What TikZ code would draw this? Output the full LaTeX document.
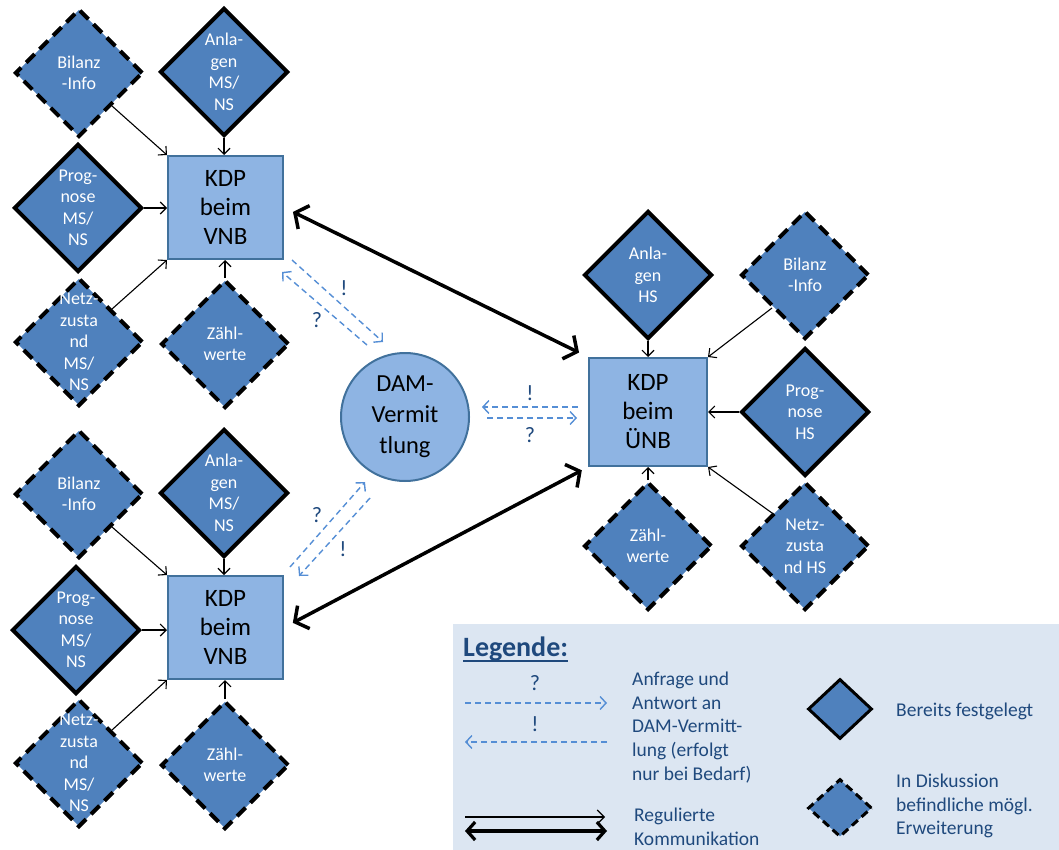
\documentclass[tikz,border=0pt]{standalone}
\usepackage{fontspec}
\setmainfont{Carlito}
\usetikzlibrary{shapes.geometric,arrows.meta}
\definecolor{dfill}{RGB}{79,129,189}
\definecolor{bfill}{RGB}{142,180,227}
\definecolor{bdraw}{RGB}{65,113,156}
\definecolor{dashc}{RGB}{85,142,213}
\definecolor{ltext}{RGB}{31,73,125}
\definecolor{legbg}{RGB}{220,230,242}
\tikzset{
 dia/.style={diamond, aspect=1, minimum width=128pt, minimum height=128pt, inner sep=0pt, fill=dfill, draw=black, line width=4pt},
 diasolid/.style={dia},
 diadash/.style={dia, dash pattern=on 12pt off 7pt},
 dtext/.style={text=white, font=\fontsize{18}{21.5}\selectfont, align=center, inner sep=0pt},
 kdp/.style={rectangle, fill=bfill, draw=bdraw, line width=2pt, minimum width=115pt, minimum height=103pt, font=\fontsize{25}{29}\selectfont, align=center, inner sep=0pt},
 feed/.style={-{Straight Barb[length=6pt,width=12pt]}, line width=1.1pt},
 reg/.style={{Straight Barb[length=10pt,width=26pt]}-{Straight Barb[length=10pt,width=26pt]}, line width=3.5pt},
 req/.style={-{Straight Barb[length=6pt,width=13pt]}, draw=dashc, line width=1.4pt, dash pattern=on 6pt off 4pt},
 qlab/.style={text=ltext, font=\fontsize{22}{26}\selectfont, inner sep=0pt},
 ltxt/.style={text=ltext, font=\fontsize{19.5}{23.8}\selectfont, align=left, inner sep=0pt},
}
\begin{document}
\begin{tikzpicture}[x=1pt,y=-1pt]
\useasboundingbox (0,0) rectangle (1059,850);
% legend background
\fill[legbg] (453,624) rectangle (1059,850);

% ---------- top-left cluster ----------
\node[kdp] (k1) at (225.5,207.5) {KDP\\beim\\VNB};
\node[diadash, label={[dtext]center:{Bilanz\\-Info}}] (bi1) at (79,73) {};
\node[diasolid, label={[dtext]center:{Anla-\\gen\\MS/\\NS}}] (an1) at (224,72) {};
\node[diasolid, label={[dtext]center:{Prog-\\nose\\MS/\\NS}}] (pr1) at (78,208) {};
\node[diadash, label={[dtext]center:{Netz-\\zusta\\nd\\MS/\\NS}}] (ne1) at (79,342) {};
\node[diadash, label={[dtext]center:{Zähl-\\werte}}] (za1) at (225,344) {};
\draw[feed] (bi1.south east) -- (k1.north west);
\draw[feed] (an1.south) -- (an1.south |- k1.north);
\draw[feed] (pr1.east) -- (pr1.east -| k1.west);
\draw[feed] (ne1.north east) -- (k1.south west);
\draw[feed] (za1.north) -- (za1.north |- k1.south);

% ---------- bottom-left cluster ----------
\node[kdp] (k2) at (225.5,627.5) {KDP\\beim\\VNB};
\node[diadash, label={[dtext]center:{Bilanz\\-Info}}] (bi2) at (79,494) {};
\node[diasolid, label={[dtext]center:{Anla-\\gen\\MS/\\NS}}] (an2) at (224,493) {};
\node[diasolid, label={[dtext]center:{Prog-\\nose\\MS/\\NS}}] (pr2) at (76,630) {};
\node[diadash, label={[dtext]center:{Netz-\\zusta\\nd\\MS/\\NS}}] (ne2) at (79,763) {};
\node[diadash, label={[dtext]center:{Zähl-\\werte}}] (za2) at (225,765) {};
\draw[feed] (bi2.south east) -- (k2.north west);
\draw[feed] (an2.south) -- (an2.south |- k2.north);
\draw[feed] (pr2.east) -- (pr2.east -| k2.west);
\draw[feed] (ne2.north east) -- (k2.south west);
\draw[feed] (za2.north) -- (za2.north |- k2.south);

% ---------- right cluster ----------
\node[kdp, minimum width=118pt, minimum height=108pt] (ku) at (648,412) {KDP\\beim\\ÜNB};
\node[diasolid, label={[dtext]center:{Anla-\\gen\\HS}}] (anh) at (648,275) {};
\node[diadash, label={[dtext]center:{Bilanz\\-Info}}] (bih) at (805,275) {};
\node[diasolid, label={[dtext]center:{Prog-\\nose\\HS}}] (prh) at (805,412) {};
\node[diadash, label={[dtext]center:{Zähl-\\werte}}] (zah) at (648,546) {};
\node[diadash, label={[dtext]center:{Netz-\\zusta\\nd HS}}] (neh) at (805,546) {};
\draw[feed] (anh.south) -- (anh.south |- ku.north);
\draw[feed] (bih.south west) -- (ku.north east);
\draw[feed] (prh.west) -- (prh.west -| ku.east);
\draw[feed] (neh.north west) -- (ku.south east);
\draw[feed] (zah.north) -- (zah.north |- ku.south);

% ---------- DAM ----------
\node[circle, fill=bfill, draw=bdraw, line width=2pt, minimum size=128pt, inner sep=0pt, align=center, font=\fontsize{24.5}{31}\selectfont] (dam) at (405,417) {DAM-\\Vermit\\tlung};

% regulated communication
\draw[reg, shorten <=10pt, shorten >=10pt] (k1.east) -- (ku.north west);
\draw[reg, shorten <=10pt, shorten >=7pt] (k2.east) -- (ku.south west);

% dashed request / answer arrows
\coordinate (t1a) at (367,345); \coordinate (t1b) at (282,272);
\coordinate (t2a) at (292,260); \coordinate (t2b) at (383,342);
\draw[req] (t1a) -- (t1b);
\draw[req] (t2a) -- (t2b);
\node[qlab] (tq1) at (344,288) {!};
\node[qlab] (tq2) at (317,320) {?};

\coordinate (m1a) at (578,407); \coordinate (m1b) at (482,407);
\coordinate (m2a) at (487,418); \coordinate (m2b) at (577,418);
\draw[req] (m1a) -- (m1b);
\draw[req] (m2a) -- (m2b);
\node[qlab] (mq1) at (530,393) {!};
\node[qlab] (mq2) at (530,435) {?};

\coordinate (b1a) at (290,567); \coordinate (b1b) at (365,482);
\coordinate (b2a) at (370,498); \coordinate (b2b) at (299,576);
\draw[req] (b1a) -- (b1b);
\draw[req] (b2a) -- (b2b);
\node[qlab] (bq1) at (317,515) {?};
\node[qlab] (bq2) at (343,549) {!};

% ---------- legend ----------
\node[anchor=base west, text=ltext, font=\fontsize{28}{32}\selectfont\bfseries, inner sep=0pt] (lg) at (463,656) {Legende:};
\draw[ltext, line width=2pt] ([yshift=-5pt]lg.base west) -- ([yshift=-5pt]lg.base east);
\node[qlab] (lq1) at (535,683) {?};
\node[qlab] (lq2) at (535,724) {!};
\coordinate (l1a) at (465,703); \coordinate (l1b) at (607,703);
\coordinate (l2a) at (607,742); \coordinate (l2b) at (465,742);
\draw[req] (l1a) -- (l1b);
\draw[req] (l2a) -- (l2b);
\node[ltxt, anchor=west] (lt1) at (632,727.5) {Anfrage und\\Antwort an\\DAM-Vermitt-\\lung (erfolgt\\nur bei Bedarf)};
\coordinate (l3a) at (465,817); \coordinate (l3b) at (605,817);
\coordinate (l4a) at (465,831); \coordinate (l4b) at (607,831);
\draw[feed, -{Straight Barb[length=7pt,width=14pt]}] (l3a) -- (l3b);
\draw[{Straight Barb[length=8pt,width=18pt]}-{Straight Barb[length=8pt,width=18pt]}, line width=3.2pt] (l4a) -- (l4b);
\node[ltxt, anchor=west] (lt2) at (634,827) {Regulierte\\Kommunikation};
\node[diasolid, minimum width=64pt, minimum height=60pt, line width=3pt] (ld1) at (840,709) {};
\node[diadash, minimum width=64pt, minimum height=58pt, line width=3pt, dash pattern=on 8pt off 5pt] (ld2) at (840,808) {};
\node[ltxt, anchor=west] (lt3) at (896,711) {Bereits festgelegt};
\node[ltxt, anchor=west] (lt4) at (896,806) {In Diskussion\\befindliche mögl.\\Erweiterung};
\end{tikzpicture}
\end{document}
